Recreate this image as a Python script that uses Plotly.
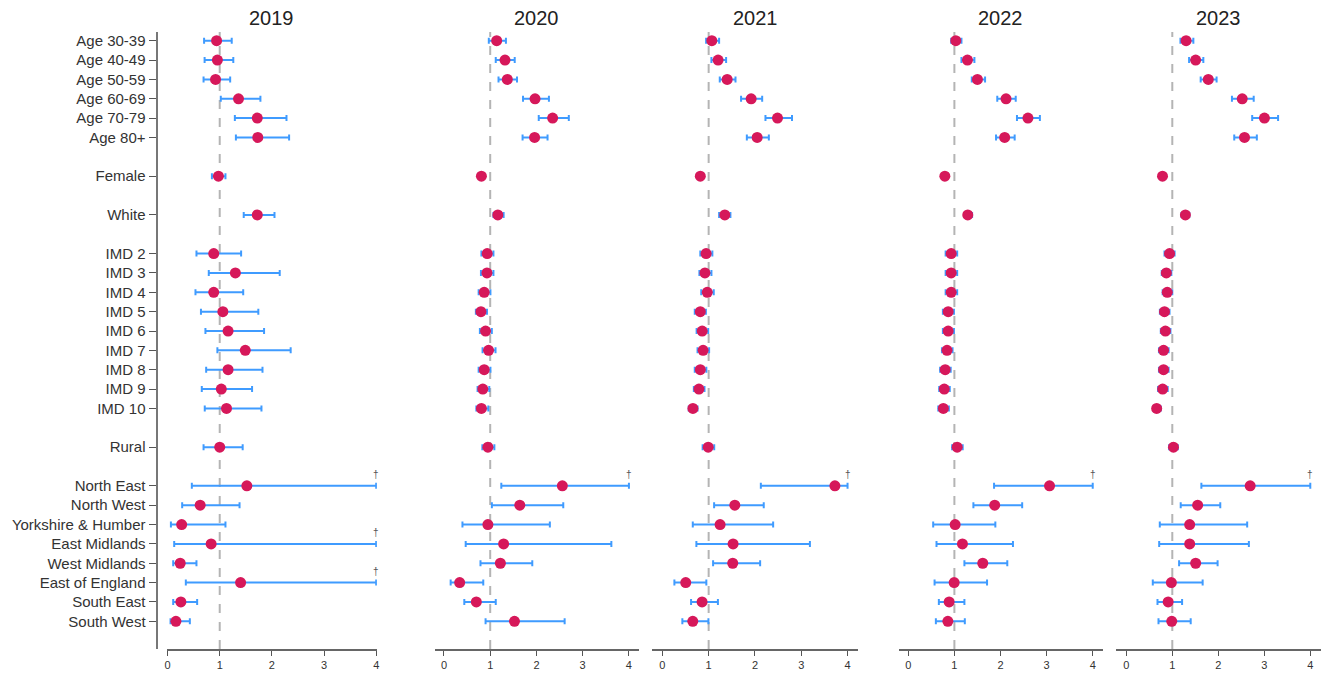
import plotly.graph_objects as go

# page body adds an 8px margin; work in reference pixel coordinates minus that offset
OFF = 8
W, H = 1332 - OFF, 677 - OFF

years = ["2019", "2020", "2021", "2022", "2023"]

age_labels = ["Age 30-39", "Age 40-49", "Age 50-59", "Age 60-69", "Age 70-79", "Age 80+"]
sex_labels = ["Female"]
eth_labels = ["White"]
imd_labels = ["IMD 2", "IMD 3", "IMD 4", "IMD 5", "IMD 6", "IMD 7", "IMD 8", "IMD 9", "IMD 10"]
rural_labels = ["Rural"]
region_labels = ["North East", "North West", "Yorkshire & Humber", "East Midlands",
                 "West Midlands", "East of England", "South East", "South West"]
groups = [age_labels, sex_labels, eth_labels, imd_labels, rural_labels, region_labels]

# Estimates and confidence limits (upper limits at 4 are truncated, marked with a dagger)
est_2019 = [0.94, 0.955, 0.92, 1.36, 1.72, 1.73, 0.975, 1.72,
            0.885, 1.30, 0.885, 1.06, 1.16, 1.49, 1.16, 1.03, 1.13, 1.00,
            1.52, 0.625, 0.27, 0.835, 0.242, 1.40, 0.255, 0.16]
lo_2019 = [0.70, 0.71, 0.69, 1.02, 1.29, 1.31, 0.85, 1.46,
           0.554, 0.79, 0.535, 0.64, 0.726, 0.955, 0.74, 0.656, 0.713, 0.69,
           0.465, 0.28, 0.064, 0.127, 0.108, 0.35, 0.108, 0.057]
hi_2019 = [1.23, 1.26, 1.20, 1.78, 2.28, 2.33, 1.11, 2.05,
           1.41, 2.15, 1.45, 1.74, 1.85, 2.36, 1.82, 1.62, 1.80, 1.44,
           4.0, 1.38, 1.11, 4.0, 0.554, 4.0, 0.567, 0.427]

est_2020 = [1.14, 1.32, 1.37, 1.97, 2.35, 1.96, 0.81, 1.165,
            0.935, 0.93, 0.87, 0.80, 0.90, 0.965, 0.87, 0.84, 0.81, 0.95,
            2.56, 1.64, 0.95, 1.29, 1.22, 0.34, 0.70, 1.525]
lo_2020 = [0.97, 1.12, 1.18, 1.71, 2.05, 1.70, 0.79, 1.07,
           0.81, 0.80, 0.75, 0.69, 0.777, 0.835, 0.75, 0.727, 0.70, 0.83,
           1.24, 1.036, 0.40, 0.47, 0.79, 0.145, 0.44, 0.90]
hi_2020 = [1.34, 1.53, 1.58, 2.27, 2.70, 2.24, 0.83, 1.29,
           1.07, 1.07, 1.005, 0.93, 1.035, 1.115, 1.005, 0.98, 0.96, 1.09,
           4.0, 2.58, 2.29, 3.62, 1.91, 0.85, 1.12, 2.61]

est_2021 = [1.068, 1.204, 1.40, 1.918, 2.487, 2.048, 0.82, 1.349,
            0.945, 0.92, 0.97, 0.82, 0.86, 0.88, 0.82, 0.79, 0.66, 0.99,
            3.727, 1.565, 1.247, 1.528, 1.52, 0.505, 0.858, 0.657]
lo_2021 = [0.945, 1.06, 1.24, 1.70, 2.227, 1.825, 0.80, 1.226,
           0.82, 0.80, 0.84, 0.70, 0.74, 0.76, 0.70, 0.68, 0.57, 0.87,
           2.127, 1.118, 0.657, 0.735, 1.096, 0.26, 0.62, 0.432]
hi_2021 = [1.226, 1.377, 1.58, 2.156, 2.80, 2.30, 0.84, 1.47,
           1.08, 1.06, 1.11, 0.94, 0.99, 1.01, 0.95, 0.91, 0.76, 1.12,
           4.0, 2.19, 2.393, 3.187, 2.112, 0.95, 1.20, 0.995]

est_2022 = [1.03, 1.283, 1.499, 2.12, 2.595, 2.09, 0.793, 1.29,
            0.93, 0.93, 0.93, 0.865, 0.865, 0.84, 0.80, 0.78, 0.76, 1.06,
            3.063, 1.874, 1.016, 1.174, 1.615, 0.995, 0.886, 0.858]
lo_2022 = [0.93, 1.153, 1.377, 1.93, 2.357, 1.903, 0.78, 1.217,
           0.81, 0.81, 0.81, 0.75, 0.75, 0.73, 0.69, 0.67, 0.65, 0.95,
           1.86, 1.412, 0.54, 0.612, 1.217, 0.57, 0.663, 0.598]
hi_2022 = [1.153, 1.434, 1.665, 2.33, 2.854, 2.307, 0.81, 1.384,
           1.06, 1.06, 1.06, 0.99, 0.99, 0.96, 0.92, 0.90, 0.88, 1.18,
           4.0, 2.47, 1.888, 2.27, 2.147, 1.708, 1.217, 1.226]

est_2023 = [1.30, 1.508, 1.783, 2.52, 3.003, 2.57, 0.787, 1.285,
            0.94, 0.87, 0.89, 0.83, 0.85, 0.81, 0.81, 0.79, 0.66, 1.025,
            2.693, 1.551, 1.378, 1.378, 1.508, 0.98, 0.91, 0.988]
lo_2023 = [1.177, 1.365, 1.617, 2.297, 2.737, 2.347, 0.77, 1.20,
           0.83, 0.77, 0.79, 0.73, 0.75, 0.71, 0.71, 0.69, 0.58, 0.93,
           1.632, 1.183, 0.728, 0.715, 1.148, 0.576, 0.678, 0.70]
hi_2023 = [1.458, 1.675, 1.963, 2.77, 3.30, 2.838, 0.80, 1.37,
           1.05, 0.98, 1.00, 0.94, 0.96, 0.92, 0.92, 0.90, 0.75, 1.12,
           4.0, 2.043, 2.628, 2.665, 1.985, 1.66, 1.213, 1.40]

series = {
    "2019": (est_2019, lo_2019, hi_2019),
    "2020": (est_2020, lo_2020, hi_2020),
    "2021": (est_2021, lo_2021, hi_2021),
    "2022": (est_2022, lo_2022, hi_2022),
    "2023": (est_2023, lo_2023, hi_2023),
}

# row positions: one blank row between groups
labels, rows = [], []
p = 0
for g in groups:
    for lab in g:
        labels.append(lab)
        rows.append(p)
        p += 1
    p += 1

# panel geometry (reference pixels)
panel_px = [(165, 376), (434, 639), (652.3, 858.3), (899.3, 1104), (1117.3, 1322.7)]
panel_rng = [[-0.02, 4.013], [-0.2, 4.22], [-0.216, 4.22], [-0.21, 4.216], [-0.225, 4.227]]
y_top_px, y_bot_px = 32, 649
yaxis_x_px = 155


def px_x(v):
    return (v - OFF) / W


def px_y(v):
    return 1 - (v - OFF) / H


y_dom = [px_y(y_bot_px), px_y(y_top_px)]
y_rng = [31.43, -0.45]

MARK = "#D6185A"
BAR = "#3F9BFF"
FONT = "Liberation Sans, Arial, sans-serif"

fig = go.Figure()
layout = dict(
    width=W, height=H, margin=dict(l=0, r=0, t=0, b=0),
    paper_bgcolor="white", plot_bgcolor="white", showlegend=False,
    font=dict(family=FONT, color="#333333"),
)
annotations, shapes = [], []

for i, yr in enumerate(years):
    est, lo, hi = series[yr]
    sfx = "" if i == 0 else str(i + 1)
    xa, ya = "x" + sfx, "y" + sfx
    fig.add_trace(go.Scatter(
        x=est, y=rows, mode="markers", xaxis=xa, yaxis=ya,
        marker=dict(color=MARK, size=11, line=dict(width=0)),
        error_x=dict(type="data", symmetric=False,
                     array=[h - e for h, e in zip(hi, est)],
                     arrayminus=[e - l for e, l in zip(est, lo)],
                     color=BAR, thickness=2, width=3),
        hoverinfo="skip",
    ))
    x0, x1 = panel_px[i]
    layout["xaxis" + sfx] = dict(
        domain=[px_x(x0), px_x(x1)], range=panel_rng[i], anchor=ya,
        tickvals=[0, 1, 2, 3, 4], ticks="outside", ticklen=5, tickwidth=1,
        tickcolor="#555", showline=True, linecolor="#666", linewidth=2,
        showgrid=False, zeroline=False, tickfont=dict(size=11, color="#333"),
        fixedrange=True,
    )
    if i == 0:
        layout["yaxis"] = dict(
            domain=y_dom, range=y_rng, anchor="free", position=px_x(yaxis_x_px),
            tickvals=rows, ticktext=labels, ticks="outside", ticklen=7,
            tickwidth=1, tickcolor="#555", showline=True, linecolor="#777",
            linewidth=2, showgrid=False, zeroline=False,
            tickfont=dict(size=15, color="#333"), fixedrange=True,
        )
    else:
        layout["yaxis" + sfx] = dict(
            domain=y_dom, range=y_rng, anchor=xa, visible=False,
            showgrid=False, zeroline=False, fixedrange=True,
        )
    # reference line at 1
    shapes.append(dict(type="line", xref=xa, yref="paper", x0=1, x1=1,
                       y0=y_dom[0], y1=y_dom[1], layer="below",
                       line=dict(color="#B4B4B4", width=2, dash="9px,9px")))
    # title
    annotations.append(dict(text=yr, xref="paper", yref="paper",
                            x=px_x((x0 + x1) / 2), y=px_y(18), showarrow=False,
                            xanchor="center", yanchor="middle",
                            font=dict(size=20, color="#222", family=FONT)))
    # daggers for truncated intervals
    for r, h in zip(rows, hi):
        if h >= 4:
            annotations.append(dict(text="†", xref=xa, yref=ya, x=4, y=r,
                                    yshift=11, showarrow=False,
                                    font=dict(size=10, color="#555", family=FONT)))

layout["annotations"] = annotations
layout["shapes"] = shapes
fig.update_layout(**layout)
fig.write_html("out.html")
